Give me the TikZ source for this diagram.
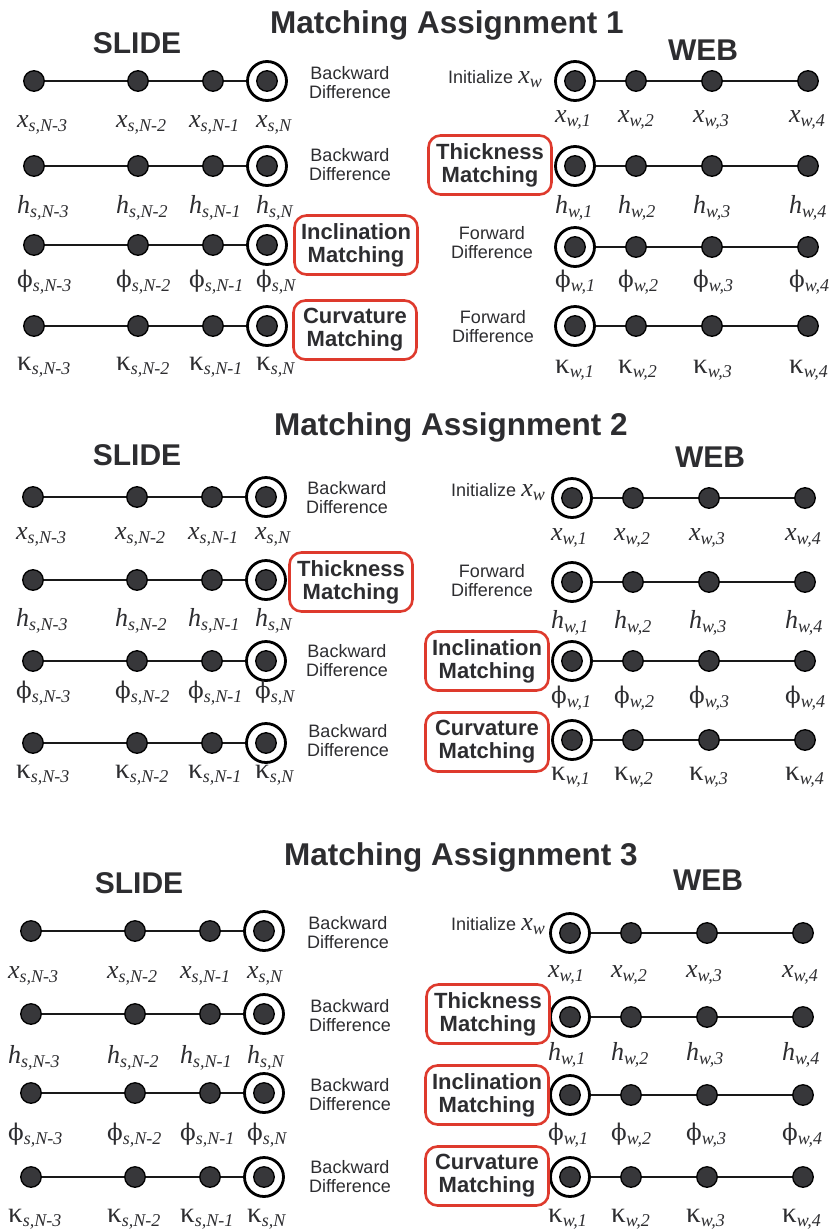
\documentclass[tikz,border=0pt]{standalone}
\usepackage{fontspec}
\setmainfont{Liberation Sans}
\newfontfamily\serf{Liberation Serif}
\newfontfamily\grk{DejaVu Serif}

\definecolor{ink}{RGB}{45,45,48}
\definecolor{dotfill}{RGB}{55,55,58}
\definecolor{boxred}{RGB}{222,58,45}

% variable with lowered subscript
\newcommand{\vlab}[2]{{\itshape #1}\raisebox{-4.5pt}{\itshape\fontsize{18}{18}\selectfont #2}}
\newcommand{\initxw}{Initialize {\serf\fontsize{26}{26}\selectfont\vlab{x}{w}}}
\newcommand{\phis}{{\grk\upshape\fontsize{23}{24}\selectfont ϕ}}
\newcommand{\kaps}{{\upshape\fontsize{29}{29}\selectfont κ}}

\tikzset{
  nodept/.style={circle, draw=black, fill=dotfill, line width=1.3pt, minimum size=20.5pt, inner sep=0pt},
  ringpt/.style={circle, draw=black, fill=white, line width=2.8pt, minimum size=39pt, inner sep=0pt},
  segline/.style={line width=2.8pt, black!90},
  varlab/.style={anchor=base west, inner sep=0pt, text=ink, font=\serf\fontsize{26}{28}\selectfont},
  difftext/.style={align=center, text=ink, inner sep=0pt, font=\fontsize{18}{19}\selectfont},
  initlab/.style={anchor=base east, text=ink, inner sep=0pt, font=\fontsize{18}{19}\selectfont},
  matchbox/.style={draw=boxred, line width=2.6pt, rounded corners=12pt, align=center, text=ink,
    minimum width=123pt, minimum height=59pt, inner sep=2pt, font=\bfseries\fontsize{22}{23}\selectfont},
  heading/.style={anchor=base, text=ink, font=\bfseries\fontsize{31.5}{34}\selectfont},
  side/.style={anchor=base, text=ink, font=\bfseries\fontsize{30}{32}\selectfont},
}

% name, dot shift, row y, label shift, label y, symbol
\newcommand{\sliderow}[6]{%
  \node[nodept] (#1a) at (34+#2,#3) {};
  \node[nodept] (#1b) at (138+#2,#3) {};
  \node[nodept] (#1c) at (213+#2,#3) {};
  \node[ringpt] (#1d) at (267+#2,#3) {};
  \node[nodept] (#1e) at (#1d) {};
  \draw[segline] (#1a) -- (#1b) -- (#1c) -- (#1d);
  \node[varlab] (#1la) at (17+#4,#5) {\vlab{#6}{s,N-3}};
  \node[varlab] (#1lb) at (116+#4,#5) {\vlab{#6}{s,N-2}};
  \node[varlab] (#1lc) at (189+#4,#5) {\vlab{#6}{s,N-1}};
  \node[varlab] (#1ld) at (256+#4,#5) {\vlab{#6}{s,N}};
}
\newcommand{\webrow}[6]{%
  \node[ringpt] (#1a) at (575+#2,#3) {};
  \node[nodept] (#1e) at (#1a) {};
  \node[nodept] (#1b) at (636+#2,#3) {};
  \node[nodept] (#1c) at (712+#2,#3) {};
  \node[nodept] (#1d) at (808+#2,#3) {};
  \draw[segline] (#1a) -- (#1b) -- (#1c) -- (#1d);
  \node[varlab] (#1la) at (555+#4,#5) {\vlab{#6}{w,1}};
  \node[varlab] (#1lb) at (618+#4,#5) {\vlab{#6}{w,2}};
  \node[varlab] (#1lc) at (693+#4,#5) {\vlab{#6}{w,3}};
  \node[varlab] (#1ld) at (789+#4,#5) {\vlab{#6}{w,4}};
}

\begin{document}
\begin{tikzpicture}[x=1pt, y=-1pt]
\useasboundingbox (0,0) rectangle (831,1232);

% Matching Assignment 1
\node[heading] (t1) at (447,33) {Matching Assignment 1};
\node[side] (s1) at (137,53) {SLIDE};
\node[side] (w1) at (703,60) {WEB};

\sliderow{m1sx}{0}{81}{0}{127}{x}
\sliderow{m1sh}{0}{166}{0}{213}{h}
\sliderow{m1sp}{0}{245}{0}{287}{\phis}
\sliderow{m1sk}{0}{326}{0}{370}{\kaps}

\webrow{m1wx}{0}{81}{0}{122}{x}
\webrow{m1wh}{0}{166}{0}{213}{h}
\webrow{m1wp}{0}{247}{0}{287}{\phis}
\webrow{m1wk}{0}{326}{0}{373}{\kaps}

\node[difftext] (m1bx) at (350,83) {Backward\\Difference};
\node[difftext] (m1bh) at (350,165) {Backward\\Difference};
\node[matchbox] (m1ip) at (356,245) {Inclination\\Matching};
\node[matchbox] (m1ck) at (355,330) {Curvature\\Matching};
\node[initlab] (m1ix) at (542,83) {\initxw};
\node[matchbox] (m1th) at (490,165) {Thickness\\Matching};
\node[difftext] (m1fp) at (492,243) {Forward\\Difference};
\node[difftext] (m1fk) at (493,327) {Forward\\Difference};

% Matching Assignment 2
\node[heading] (t2) at (451,435) {Matching Assignment 2};
\node[side] (s2) at (137,465) {SLIDE};
\node[side] (w2) at (710,467) {WEB};

\sliderow{m2sx}{-1}{497}{-1}{539}{x}
\sliderow{m2sh}{-1}{580}{-1}{626}{h}
\sliderow{m2sp}{-1}{661}{-1}{698}{\phis}
\sliderow{m2sk}{-1}{743}{-1}{778}{\kaps}

\webrow{m2wx}{-3}{498}{-4}{540}{x}
\webrow{m2wh}{-3}{582}{-4}{628}{h}
\webrow{m2wp}{-3}{661}{-4}{703}{\phis}
\webrow{m2wk}{-3}{740}{-4}{780}{\kaps}

\node[difftext] (m2bx) at (347,498) {Backward\\Difference};
\node[matchbox] (m2th) at (351,582) {Thickness\\Matching};
\node[difftext] (m2bp) at (347,661) {Backward\\Difference};
\node[difftext] (m2bk) at (348,741) {Backward\\Difference};
\node[initlab] (m2ix) at (545,496) {\initxw};
\node[difftext] (m2fh) at (492,581) {Forward\\Difference};
\node[matchbox] (m2ip) at (487,661) {Inclination\\Matching};
\node[matchbox] (m2ck) at (487,742) {Curvature\\Matching};

% Matching Assignment 3
\node[heading] (t3) at (461,865) {Matching Assignment 3};
\node[side] (s3) at (139,893) {SLIDE};
\node[side] (w3) at (708,890) {WEB};

\sliderow{m3sx}{-3}{931}{-9}{978}{x}
\sliderow{m3sh}{-3}{1014}{-9}{1063}{h}
\sliderow{m3sp}{-3}{1093}{-9}{1140}{\phis}
\sliderow{m3sk}{-3}{1177}{-9}{1222}{\kaps}

\webrow{m3wx}{-5}{933}{-7}{977}{x}
\webrow{m3wh}{-5}{1017}{-7}{1060}{h}
\webrow{m3wp}{-5}{1095}{-7}{1140}{\phis}
\webrow{m3wk}{-5}{1177}{-7}{1222}{\kaps}

\node[difftext] (m3bx) at (348,933) {Backward\\Difference};
\node[difftext] (m3bh) at (350,1016) {Backward\\Difference};
\node[difftext] (m3bp) at (350,1095) {Backward\\Difference};
\node[difftext] (m3bk) at (350,1177) {Backward\\Difference};
\node[initlab] (m3ix) at (545,930) {\initxw};
\node[matchbox] (m3th) at (488,1014) {Thickness\\Matching};
\node[matchbox] (m3ip) at (487,1095) {Inclination\\Matching};
\node[matchbox] (m3ck) at (487,1176) {Curvature\\Matching};

\end{tikzpicture}
\end{document}
